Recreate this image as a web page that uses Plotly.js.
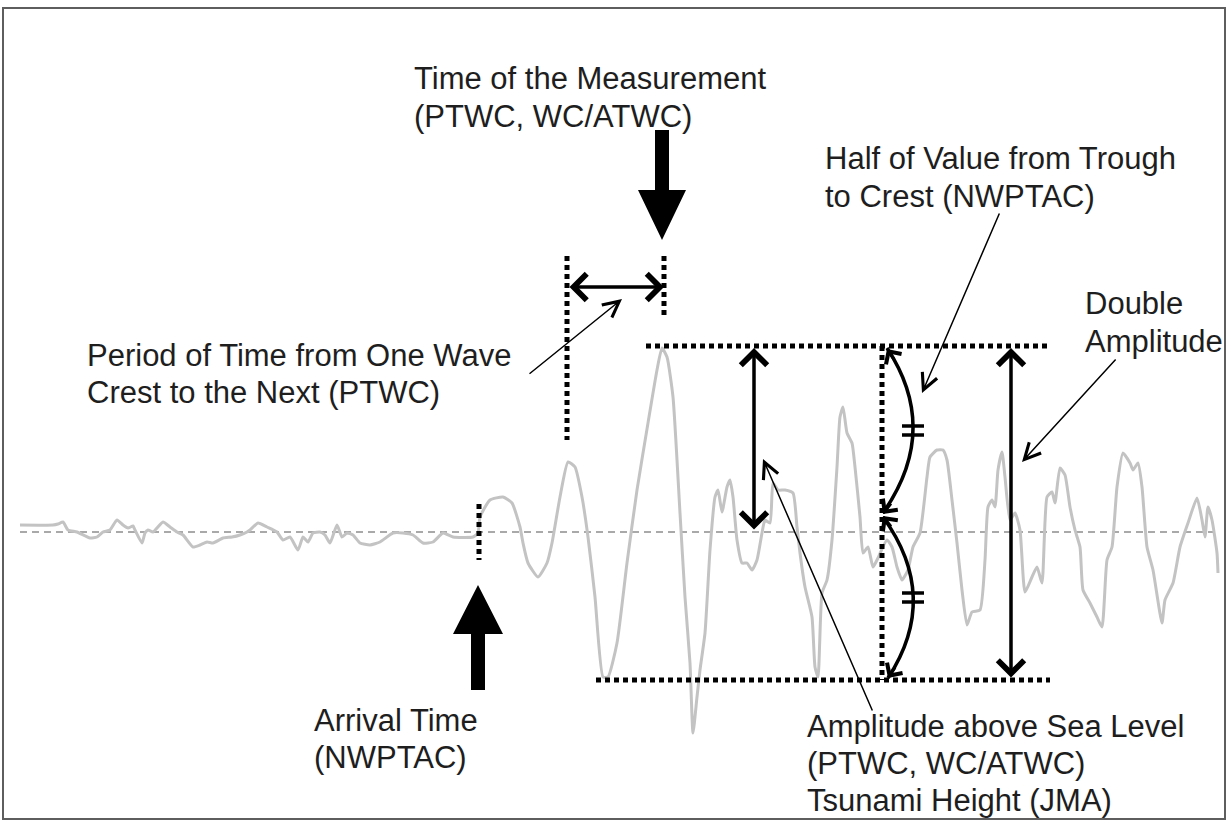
<!DOCTYPE html>
<html>
<head>
<meta charset="utf-8">
<script src="https://cdn.plot.ly/plotly-3.0.1.min.js"></script>
<style>html,body{margin:0;padding:0;background:#fff;}#chart{width:1231px;height:825px;}</style>
</head>
<body>
<div id="chart"></div>
<script>
// Tide-gauge record: time (arbitrary units) and sea level relative to mean (arbitrary units)
const waveTime = [20,53,58,63,68,77,90,97,103,110,117,123,128,133,135,142,145,148,153,163,170,177,183,193,200,207,213,223,232,240,247,250,258,267,277,283,290,298,303,308,313,320,325,330,337,342,347,353,360,370,380,393,403,413,423,433,443,453,473,478,
480,490,503,512,520,523,528,538,547,552,560,568,575,582,588,595,603,608,617,627,637,648,657,662,667,673,680,685,690,693,697,700,705,710,715,718,722,727,730,733,737,742,747,752,757,762,765,770,773,778,785,793,797,800,805,812,815,818,822,827,832,837,840,843,847,852,855,860,863,868,873,877,887,892,897,902,908,913,920,927,930,937,943,947,952,957,962,967,972,980,985,988,992,995,998,1002,1005,1010,1015,1020,1025,1032,1037,1042,1047,1052,1055,1060,1065,1070,1075,1080,1083,1090,1097,1102,1107,1112,1117,1123,1130,1133,1138,1142,1147,1153,1162,1165,1173,1180,1188,1197,1202,1205,1208,1212,1217,1218];
const waveLevel = [7,7,8,10,2,0,-6,-5,0,2,12,7,4,6,2,-11,-1,2,0,10,5,0,-3,-15,-13,-10,-11,-6,-5,-3,0,2,9,5,0,-8,-5,-18,-5,-10,-1,0,-3,-11,7,-5,-1,-3,-11,-13,-10,-1,-1,-3,-11,-10,-1,-5,-5,-1,
15,32,35,29,5,-11,-31,-45,-31,-11,35,70,65,35,-5,-65,-145,-145,-111,-31,42,109,162,184,175,135,19,-65,-131,-201,-165,-138,-101,-18,35,42,20,45,52,35,-8,-31,-31,-38,-28,-1,12,9,49,42,42,39,5,-21,-55,-85,-135,-145,-61,-48,-8,65,115,125,99,89,65,15,-21,-15,-35,-28,-8,-15,-35,-48,-38,-15,-1,55,75,82,82,72,32,-11,-58,-93,-80,-78,-28,25,32,25,62,80,55,12,19,2,-60,-45,-35,-51,35,40,29,64,57,25,2,-15,-58,-71,-85,-95,-28,-15,45,79,69,62,69,45,-15,-38,-91,-68,-51,-15,9,34,12,-5,25,12,-21,-41];

// Labels
const labelMeasurement = ["Time of the Measurement", "(PTWC, WC/ATWC)"];
const labelHalf = ["Half of Value from Trough", "to Crest (NWPTAC)"];
const labelDouble = ["Double", "Amplitude"];
const labelPeriod = ["Period of Time from One Wave", "Crest to the Next (PTWC)"];
const labelArrival = ["Arrival Time", "(NWPTAC)"];
const labelAmplitude = ["Amplitude above Sea Level", "(PTWC, WC/ATWC)", "Tsunami Height (JMA)"];

// ---- layout helpers (page positions converted to axis units) ----
const BASE = 532;
const Y = py => BASE - py;
const FONT = {family: '"Liberation Sans", Arial, sans-serif', size: 31, color: "#1e1e1e"};
const DOT = "5px,4px";

const shapes = [];
const annotations = [];

function line(x0, py0, x1, py1, opts) {
  shapes.push(Object.assign({type: "line", xref: "x", yref: "y", x0: x0, y0: Y(py0), x1: x1, y1: Y(py1),
    line: {color: "#000", width: 5, dash: DOT}}, opts || {}));
}
function path(d, fill, lw) {
  shapes.push({type: "path", xref: "x", yref: "y", path: d,
    fillcolor: fill || "rgba(0,0,0,0)", line: {color: "#000", width: lw === undefined ? 0 : lw}});
}
function text(lines, x, py0, step) {
  lines.forEach((t, i) => annotations.push({text: t, x: x, y: Y(py0 + i * step), xref: "x", yref: "y",
    xanchor: "left", yanchor: "middle", showarrow: false, font: FONT}));
}
function arrow(x, py, ax, apy, o) {
  annotations.push(Object.assign({text: "", x: x, y: Y(py), ax: ax, ay: Y(apy), xref: "x", yref: "y",
    axref: "x", ayref: "y", showarrow: true, arrowcolor: "#000", arrowhead: 5, arrowsize: 2.1,
    arrowwidth: 1.5, standoff: 0, startstandoff: 0}, o || {}));
}

// frame
shapes.push({type: "rect", xref: "x", yref: "y", x0: 3, x1: 1225, y0: Y(8), y1: Y(819),
  line: {color: "#5e5e5e", width: 2}, fillcolor: "rgba(0,0,0,0)", layer: "below"});
// mean sea level
line(20, BASE, 1220, BASE, {line: {color: "#555", width: 1.2, dash: "7px,5px"}, layer: "below"});

// dotted guides
line(479, 504, 479, 560);
line(567, 256, 567, 440);
line(664, 256, 664, 318);
line(646, 346, 1050, 346);
line(596, 680, 1050, 680);
line(882, 346, 882, 680);

// block arrows
path(`M655,${Y(130)} L669,${Y(130)} L669,${Y(190)} L686,${Y(190)} L662,${Y(240)} L638,${Y(190)} L655,${Y(190)} Z`, "#000");
path(`M478,${Y(585)} L503,${Y(634)} L485,${Y(634)} L485,${Y(690)} L471,${Y(690)} L471,${Y(634)} L453,${Y(634)} Z`, "#000");

// curly halves
path(`M887,${Y(348)} Q941,${Y(430)} 883,${Y(513)}`, null, 3.5);
path(`M883,${Y(517)} Q941,${Y(597)} 888,${Y(678)}`, null, 3.5);
[426, 435, 593, 602].forEach(py => line(902, py, 924, py, {line: {color: "#000", width: 3.5}}));

// double headed arrows
const thick = {arrowhead: 4, arrowsize: 1.45, arrowwidth: 3.5, arrowside: "end+start", startarrowhead: 4, startarrowsize: 1.45};
arrow(664, 287, 568, 287, thick);
arrow(754, 348, 754, 531, thick);
arrow(1011, 348, 1011, 679, thick);
// arc heads
const arcHead = {arrowhead: 4, arrowsize: 1.2, arrowwidth: 3};
arrow(887, 349, 895, 361, arcHead);
arrow(883, 514, 892, 502, arcHead);
arrow(883, 516, 892, 528, arcHead);
arrow(888, 678, 896, 666, arcHead);

// thin pointers
arrow(622, 299, 528, 375);
arrow(763, 459, 873, 712);
arrow(922, 393, 1000, 212);
arrow(1022, 462, 1117, 358);

// texts
text(labelMeasurement, 412, 78, 38);
text(labelHalf, 823, 158, 38);
text(labelDouble, 1083, 303, 38);
text(labelPeriod, 85, 355, 37);
text(labelArrival, 312, 720, 37);
text(labelAmplitude, 805, 726, 37);

const data = [{
  x: waveTime, y: waveLevel, type: "scatter", mode: "lines",
  line: {color: "#c3c3c3", width: 3, shape: "spline", smoothing: 0.5},
  hoverinfo: "skip"
}];

const layout = {
  width: 1231, height: 825,
  margin: {l: 0, r: 0, t: 0, b: 0, pad: 0},
  paper_bgcolor: "#fff", plot_bgcolor: "#fff",
  showlegend: false,
  xaxis: {range: [0, 1231], visible: false, fixedrange: true},
  yaxis: {range: [Y(825), Y(0)], visible: false, fixedrange: true},
  shapes: shapes,
  annotations: annotations
};

Plotly.newPlot("chart", data, layout, {staticPlot: true, displayModeBar: false});
</script>
</body>
</html>
